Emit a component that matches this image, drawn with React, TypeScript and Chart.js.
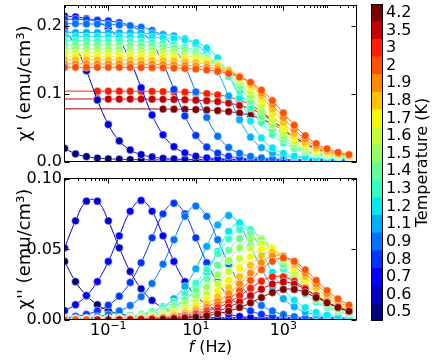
import React, { useEffect, useRef } from 'react';
import { Chart, registerables } from 'chart.js';
Chart.register(...registerables);

const FONT = "'DejaVu Sans'";

// Temperatures (K), in colour-bar order (bottom -> top)
const TEMPS = ['0.5','0.6','0.7','0.8','0.9','1.1','1.2','1.3','1.4','1.5','1.6','1.7','1.8','1.9','2','3','3.5','4.2'];

// Measurement frequencies (Hz)
const FREQ = [0.01, 0.01778, 0.03162, 0.05623, 0.1, 0.1778, 0.3162, 0.5623, 1, 1.778, 3.162, 5.623, 10, 17.78, 31.62, 56.23, 100, 177.8, 316.2, 562.3, 1000, 1778, 3162, 5623, 10000, 17783, 31623];

// index of first measured frequency for each temperature (fit lines span the whole range)
const FIRST_POINT = [0,0,0,0,0,0,0,0,0,0,0,0,0,0,0,3,3,9];

// plotting layer for each temperature (higher = drawn earlier, underneath)
const LAYER_TOP = [18,17,16,15,14,13,12,11,10,9,8,7,6,5,4,21,20,19];
const LAYER_BOTTOM = [21,20,19,18,17,16,15,14,13,12,11,10,9,8,7,6,5,4];

// x tick labels 10^n
const X_TICKS = [0.1, 10, 1000];
const X_TICK_EXP = ['\u22121', '1', '3'];

// chi' (emu/cm3)
const chi1_05 = [0.0200, 0.0120, 0.0080, 0.0058, 0.0047, 0.0040, 0.0036, 0.0034, 0.0032, 0.0031, 0.0030, 0.0031, 0.0030, 0.0030, 0.0029, 0.0030, 0.0030, 0.0029, 0.0030, 0.0030, 0.0029, 0.0030, 0.0030, 0.0029, 0.0030, 0.0030, 0.0029];
const chi1_06 = [0.194, 0.170, 0.134, 0.091, 0.055, 0.031, 0.0177, 0.0109, 0.0074, 0.0054, 0.0044, 0.0039, 0.0035, 0.0033, 0.0032, 0.0031, 0.0031, 0.0030, 0.0030, 0.0030, 0.0030, 0.0030, 0.0030, 0.0030, 0.0030, 0.0030, 0.0030];
const chi1_07 = [0.214, 0.213, 0.2105, 0.2056, 0.1965, 0.179, 0.149, 0.109, 0.069, 0.0399, 0.0225, 0.0134, 0.0085, 0.0062, 0.0049, 0.0041, 0.0036, 0.0034, 0.0032, 0.0031, 0.0030, 0.0030, 0.0030, 0.0030, 0.0030, 0.0030, 0.0030];
const chi1_08 = [0.2096, 0.2094, 0.209, 0.208, 0.207, 0.2046, 0.1999, 0.191, 0.174, 0.145, 0.1065, 0.0676, 0.039, 0.022, 0.0131, 0.0084, 0.0061, 0.0049, 0.0040, 0.0036, 0.0034, 0.0032, 0.0031, 0.0030, 0.0030, 0.0030, 0.0030];
const chi1_09 = [0.203, 0.203, 0.2026, 0.2024, 0.202, 0.2012, 0.200, 0.1978, 0.1932, 0.1846, 0.1682, 0.1406, 0.103, 0.0654, 0.0378, 0.0214, 0.0128, 0.0082, 0.0060, 0.0048, 0.0040, 0.0036, 0.0034, 0.0032, 0.0031, 0.0030, 0.0030];
const chi1_11 = [0.190, 0.190, 0.190, 0.1899, 0.1898, 0.1896, 0.1894, 0.1891, 0.1883, 0.1872, 0.1852, 0.1809, 0.1729, 0.1576, 0.132, 0.097, 0.062, 0.0364, 0.0211, 0.0131, 0.0088, 0.0068, 0.0057, 0.0049, 0.0046, 0.0044, 0.0042];
const chi1_12 = [0.184, 0.184, 0.184, 0.1839, 0.1839, 0.1838, 0.1836, 0.1835, 0.1831, 0.1824, 0.1813, 0.1793, 0.1752, 0.1674, 0.1527, 0.1278, 0.094, 0.0602, 0.0353, 0.0206, 0.0128, 0.0087, 0.0067, 0.0056, 0.0049, 0.0045, 0.0044];
const chi1_13 = [0.1779, 0.1778, 0.1778, 0.1777, 0.1775, 0.1772, 0.1768, 0.1763, 0.1754, 0.174, 0.1718, 0.1685, 0.1631, 0.155, 0.1427, 0.1252, 0.1034, 0.0796, 0.0578, 0.0403, 0.028, 0.0199, 0.0145, 0.0112, 0.009, 0.0076, 0.0067];
const chi1_14 = [0.1719, 0.1719, 0.1718, 0.1717, 0.1716, 0.1714, 0.1711, 0.1707, 0.1699, 0.1688, 0.1672, 0.1647, 0.1605, 0.1541, 0.1444, 0.1301, 0.111, 0.0885, 0.066, 0.0469, 0.0326, 0.0229, 0.0165, 0.0123, 0.0098, 0.0082, 0.0071];
const chi1_15 = [0.1659, 0.1659, 0.1659, 0.1658, 0.1657, 0.1655, 0.1653, 0.1649, 0.1644, 0.1636, 0.1623, 0.1602, 0.1571, 0.1522, 0.1446, 0.1332, 0.1169, 0.0966, 0.0744, 0.0541, 0.0378, 0.0264, 0.0188, 0.0139, 0.0108, 0.0087, 0.0074];
const chi1_16 = [0.1599, 0.1599, 0.1599, 0.1598, 0.1598, 0.1596, 0.1594, 0.1591, 0.1588, 0.1581, 0.1571, 0.1555, 0.1532, 0.1493, 0.1434, 0.1344, 0.1211, 0.1034, 0.0825, 0.0616, 0.0439, 0.0306, 0.0216, 0.0157, 0.0118, 0.0095, 0.0079];
const chi1_17 = [0.155, 0.1549, 0.1549, 0.1549, 0.1548, 0.1547, 0.1546, 0.1543, 0.154, 0.1535, 0.1528, 0.1516, 0.1496, 0.1468, 0.1421, 0.1351, 0.1244, 0.1093, 0.0904, 0.0697, 0.0508, 0.0356, 0.025, 0.0179, 0.0133, 0.0104, 0.0085];
const chi1_18 = [0.150, 0.1499, 0.1499, 0.1499, 0.1498, 0.1498, 0.1497, 0.1495, 0.1492, 0.1488, 0.1482, 0.1472, 0.1458, 0.1436, 0.140, 0.1345, 0.1261, 0.1136, 0.0971, 0.0775, 0.0579, 0.0414, 0.0289, 0.0205, 0.015, 0.0114, 0.0092];
const chi1_19 = [0.144, 0.144, 0.1439, 0.1439, 0.1439, 0.1438, 0.1437, 0.1436, 0.1434, 0.143, 0.1426, 0.1419, 0.1408, 0.139, 0.1364, 0.132, 0.1255, 0.1156, 0.1016, 0.0841, 0.0649, 0.0474, 0.0334, 0.0235, 0.017, 0.0126, 0.010];
const chi1_20 = [0.139, 0.139, 0.1389, 0.1389, 0.1389, 0.1389, 0.1388, 0.1387, 0.1385, 0.1383, 0.1379, 0.1373, 0.1365, 0.1351, 0.1331, 0.1298, 0.1247, 0.1169, 0.1054, 0.0901, 0.072, 0.0539, 0.0386, 0.0271, 0.0193, 0.0142, 0.0109];
const chi1_30 = [0.104, 0.104, 0.104, 0.1039, 0.1039, 0.1039, 0.1038, 0.1037, 0.1036, 0.1033, 0.103, 0.1025, 0.1017, 0.1004, 0.0986, 0.0955, 0.0908, 0.0838, 0.0738, 0.0613, 0.0477, 0.0352, 0.0252, 0.0182, 0.0135, 0.0104, 0.0086];
const chi1_35 = [0.0925, 0.0925, 0.0925, 0.0925, 0.0924, 0.0924, 0.0924, 0.0923, 0.0922, 0.092, 0.0918, 0.0914, 0.0908, 0.090, 0.0887, 0.0865, 0.0831, 0.0781, 0.0705, 0.0606, 0.0488, 0.0369, 0.027, 0.0194, 0.0144, 0.011, 0.0089];
const chi1_42 = [0.078, 0.078, 0.078, 0.078, 0.078, 0.0779, 0.0779, 0.0779, 0.0778, 0.0777, 0.0775, 0.0773, 0.0769, 0.0763, 0.0754, 0.074, 0.0717, 0.0683, 0.0631, 0.0557, 0.0465, 0.0365, 0.0273, 0.0199, 0.0147, 0.0113, 0.009];

// chi'' (emu/cm3)
const chi2_05 = [0.0415, 0.0272, 0.0173, 0.0108, 0.0067, 0.0045, 0.0030, 0.0022, 0.0018, 0.0016, 0.0015, 0.0015, 0.0014, 0.0015, 0.0014, 0.0015, 0.0014, 0.0014, 0.0015, 0.0014, 0.0014, 0.0015, 0.0014, 0.0014, 0.0015, 0.0014, 0.0014];
const chi2_06 = [0.0512, 0.0703, 0.0843, 0.0843, 0.0703, 0.0512, 0.0344, 0.0221, 0.0139, 0.0087, 0.0054, 0.0033, 0.0020, 0.0016, 0.0015, 0.0014, 0.0014, 0.0014, 0.0014, 0.0014, 0.0014, 0.0014, 0.0014, 0.0014, 0.0014, 0.0014, 0.0014];
const chi2_07 = [0.0067, 0.0108, 0.0173, 0.0272, 0.0415, 0.0597, 0.0771, 0.0848, 0.0771, 0.0597, 0.0415, 0.0272, 0.0173, 0.0108, 0.0067, 0.0041, 0.0025, 0.0017, 0.0014, 0.0013, 0.0013, 0.0013, 0.0013, 0.0013, 0.0013, 0.0013, 0.0013];
const chi2_08 = [0.0015, 0.0025, 0.0040, 0.0065, 0.0105, 0.0169, 0.0266, 0.0406, 0.0583, 0.0753, 0.0828, 0.0753, 0.0583, 0.0406, 0.0266, 0.0169, 0.0105, 0.0065, 0.0040, 0.0025, 0.0016, 0.0013, 0.0012, 0.0012, 0.0012, 0.0012, 0.0012];
const chi2_09 = [0.0010, 0.0010, 0.0015, 0.0024, 0.0039, 0.0064, 0.0103, 0.0165, 0.0259, 0.0396, 0.0569, 0.0735, 0.0808, 0.0735, 0.0569, 0.0396, 0.0259, 0.0165, 0.0103, 0.0064, 0.0039, 0.0024, 0.0015, 0.0012, 0.0012, 0.0012, 0.0012];
const chi2_11 = [0.0010, 0.0010, 0.0010, 0.0010, 0.0012, 0.0014, 0.0022, 0.0036, 0.0058, 0.0094, 0.0151, 0.0238, 0.0363, 0.0522, 0.0674, 0.0741, 0.0674, 0.0522, 0.0363, 0.0238, 0.0151, 0.0094, 0.0058, 0.0036, 0.0022, 0.0014, 0.0010];
const chi2_12 = [0.0010, 0.0010, 0.0010, 0.0010, 0.0010, 0.0012, 0.0013, 0.0021, 0.0034, 0.0054, 0.0088, 0.0141, 0.0221, 0.0338, 0.0486, 0.0628, 0.069, 0.0628, 0.0486, 0.0338, 0.0221, 0.0141, 0.0088, 0.0054, 0.0034, 0.0021, 0.0013];
const chi2_13 = [0.0002, 0.0004, 0.0006, 0.0008, 0.0012, 0.0018, 0.0027, 0.0041, 0.006, 0.0088, 0.0128, 0.0185, 0.0262, 0.036, 0.0471, 0.0575, 0.0641, 0.0641, 0.0575, 0.0471, 0.036, 0.0262, 0.0185, 0.0128, 0.0088, 0.006, 0.0041];
const chi2_14 = [0.0002, 0.0003, 0.0004, 0.0006, 0.0009, 0.0014, 0.0021, 0.0031, 0.0046, 0.0068, 0.010, 0.0145, 0.0208, 0.029, 0.0389, 0.0494, 0.0577, 0.061, 0.0577, 0.0494, 0.0389, 0.029, 0.0208, 0.0145, 0.010, 0.0068, 0.0046];
const chi2_15 = [0.0002, 0.0002, 0.0003, 0.0005, 0.0007, 0.0011, 0.0016, 0.0024, 0.0036, 0.0053, 0.0078, 0.0115, 0.0165, 0.0234, 0.0321, 0.042, 0.0513, 0.0571, 0.0571, 0.0513, 0.042, 0.0321, 0.0234, 0.0165, 0.0115, 0.0078, 0.0053];
const chi2_16 = [0.0001, 0.0002, 0.0002, 0.0004, 0.0006, 0.0008, 0.0012, 0.0018, 0.0027, 0.0041, 0.006, 0.0088, 0.0128, 0.0184, 0.0256, 0.0344, 0.0436, 0.051, 0.0539, 0.051, 0.0436, 0.0344, 0.0256, 0.0184, 0.0128, 0.0088, 0.006];
const chi2_17 = [0.0001, 0.0001, 0.0002, 0.0003, 0.0004, 0.0006, 0.001, 0.0014, 0.0021, 0.0032, 0.0047, 0.0069, 0.0101, 0.0145, 0.0205, 0.0282, 0.0369, 0.045, 0.0502, 0.0502, 0.045, 0.0369, 0.0282, 0.0205, 0.0145, 0.0101, 0.0069];
const chi2_18 = [0.0001, 0.0001, 0.0001, 0.0002, 0.0003, 0.0005, 0.0007, 0.0011, 0.0016, 0.0024, 0.0036, 0.0054, 0.0079, 0.0114, 0.0164, 0.0229, 0.0307, 0.0389, 0.0455, 0.0481, 0.0455, 0.0389, 0.0307, 0.0229, 0.0164, 0.0114, 0.0079];
const chi2_19 = [0.0001, 0.0001, 0.0001, 0.0002, 0.0003, 0.0004, 0.0006, 0.0009, 0.0013, 0.0019, 0.0029, 0.0042, 0.0062, 0.0091, 0.0131, 0.0186, 0.0255, 0.0333, 0.0407, 0.0453, 0.0453, 0.0407, 0.0333, 0.0255, 0.0186, 0.0131, 0.0091];
const chi2_20 = [0.0001, 0.0001, 0.0001, 0.0001, 0.0002, 0.0003, 0.0005, 0.0007, 0.001, 0.0015, 0.0022, 0.0033, 0.0049, 0.0072, 0.0105, 0.015, 0.0209, 0.0281, 0.0356, 0.0416, 0.044, 0.0416, 0.0356, 0.0281, 0.0209, 0.015, 0.0105];
const chi2_30 = [0.0001, 0.0001, 0.0001, 0.0001, 0.0002, 0.0003, 0.0004, 0.0006, 0.0009, 0.0013, 0.0019, 0.0028, 0.0042, 0.0061, 0.0088, 0.0125, 0.0172, 0.0225, 0.0275, 0.0306, 0.0306, 0.0275, 0.0225, 0.0172, 0.0125, 0.0088, 0.0061];
const chi2_35 = [0.0001, 0.0001, 0.0001, 0.0001, 0.0001, 0.0002, 0.0003, 0.0004, 0.0006, 0.0009, 0.0014, 0.002, 0.003, 0.0044, 0.0064, 0.0092, 0.0128, 0.0172, 0.0218, 0.0255, 0.027, 0.0255, 0.0218, 0.0172, 0.0128, 0.0092, 0.0064];
const chi2_42 = [0.0001, 0.0001, 0.0001, 0.0001, 0.0001, 0.0001, 0.0002, 0.0003, 0.0004, 0.0006, 0.0009, 0.0014, 0.002, 0.003, 0.0044, 0.0063, 0.0089, 0.0122, 0.0159, 0.0195, 0.0217, 0.0217, 0.0195, 0.0159, 0.0122, 0.0089, 0.0063];

const CHI1 = [chi1_05, chi1_06, chi1_07, chi1_08, chi1_09, chi1_11, chi1_12, chi1_13, chi1_14, chi1_15, chi1_16, chi1_17, chi1_18, chi1_19, chi1_20, chi1_30, chi1_35, chi1_42];
const CHI2 = [chi2_05, chi2_06, chi2_07, chi2_08, chi2_09, chi2_11, chi2_12, chi2_13, chi2_14, chi2_15, chi2_16, chi2_17, chi2_18, chi2_19, chi2_20, chi2_30, chi2_35, chi2_42];

// matplotlib "jet" colormap
function jet(v: number): string {
  const seg = (pts: number[][]) => {
    for (let i = 1; i < pts.length; i++) {
      if (v <= pts[i][0]) {
        const [x0, y0] = pts[i - 1];
        const [x1, y1] = pts[i];
        return y0 + ((y1 - y0) * (v - x0)) / (x1 - x0);
      }
    }
    return pts[pts.length - 1][1];
  };
  const r = seg([[0, 0], [0.35, 0], [0.66, 1], [0.89, 1], [1, 0.5]]);
  const g = seg([[0, 0], [0.125, 0], [0.375, 1], [0.64, 1], [0.91, 0], [1, 0]]);
  const b = seg([[0, 0.5], [0.11, 1], [0.34, 1], [0.65, 0], [1, 0]]);
  return `rgb(${Math.round(r * 255)},${Math.round(g * 255)},${Math.round(b * 255)})`;
}
const COLORS = TEMPS.map((_, k) => jet(k / (TEMPS.length - 1)));

const X_MIN = 0.0097;
const X_MAX = 47000;

function buildDatasets(series: number[][], layer: number[]) {
  const ds: any[] = [];
  series.forEach((vals, k) => {
    const color = COLORS[k];
    const all = FREQ.map((f, i) => ({ x: f, y: vals[i] }));
    ds.push({
      label: TEMPS[k] + ' fit',
      data: all,
      showLine: true,
      borderColor: color,
      backgroundColor: color,
      borderWidth: 1,
      pointRadius: 0,
      tension: 0.4,
      order: 2 * layer[k] + 1,
      clip: 0,
    });
    ds.push({
      label: TEMPS[k],
      data: all.slice(FIRST_POINT[k]),
      showLine: false,
      pointRadius: 3.9,
      pointStyle: 'circle',
      backgroundColor: color,
      borderColor: 'rgba(255,255,255,0.85)',
      borderWidth: 0.6,
      order: 2 * layer[k],
      clip: 0,
    });
  });
  return ds;
}

const framePlugin = {
  id: 'frame',
  afterDraw(chart: any) {
    const { ctx, chartArea: a, scales } = chart;
    const L = Math.round(a.left) + 0.5;
    const R = Math.round(a.right) - 0.5;
    const T = Math.round(a.top) + 0.5;
    const B = Math.round(a.bottom) - 0.5;
    ctx.save();
    ctx.strokeStyle = '#000';
    ctx.lineWidth = 1;
    ctx.beginPath();
    const xs = scales.x;
    for (let e = -3; e <= 5; e++) {
      for (let j = 1; j <= 9; j++) {
        const v = j * Math.pow(10, e);
        if (v < X_MIN || v > X_MAX) continue;
        const isMajor = X_TICKS.some((m) => Math.abs(m - v) / m < 1e-6);
        const px = Math.round(xs.getPixelForValue(v)) + 0.5;
        if (isMajor) {
          ctx.moveTo(px, B); ctx.lineTo(px, B - 5);
          ctx.moveTo(px, T); ctx.lineTo(px, T + 5);
        } else {
          ctx.moveTo(px, T); ctx.lineTo(px, T + 2.5);
        }
      }
    }
    const ys = scales.y;
    ys.ticks.forEach((t: any) => {
      const py = Math.round(ys.getPixelForValue(t.value)) + 0.5;
      ctx.moveTo(L, py); ctx.lineTo(L + 5, py);
      ctx.moveTo(R, py); ctx.lineTo(R - 5, py);
    });
    ctx.stroke();
    ctx.strokeRect(L, T, R - L, B - T);
    ctx.restore();
  },
};

const xLabelsPlugin = {
  id: 'xlabels',
  afterDraw(chart: any) {
    const { ctx, chartArea: a, scales } = chart;
    const xs = scales.x;
    ctx.save();
    ctx.fillStyle = '#000';
    ctx.textBaseline = 'alphabetic';
    ctx.textAlign = 'left';
    X_TICKS.forEach((v, i) => {
      const px = xs.getPixelForValue(v);
      ctx.font = `16px ${FONT}`;
      const w1 = ctx.measureText('10').width;
      ctx.font = `11px ${FONT}`;
      const w2 = ctx.measureText(X_TICK_EXP[i]).width;
      const left = px - (w1 + w2) / 2;
      ctx.font = `16px ${FONT}`;
      ctx.fillText('10', left, a.bottom + 15);
      ctx.font = `11px ${FONT}`;
      ctx.fillText(X_TICK_EXP[i], left + w1, a.bottom + 9);
    });
    ctx.font = `italic 16px ${FONT}`;
    const wf = ctx.measureText('f').width;
    ctx.font = `16px ${FONT}`;
    const wr = ctx.measureText(' (Hz)').width;
    const cx = (a.left + a.right) / 2;
    const start = cx - (wf + wr) / 2;
    ctx.font = `italic 16px ${FONT}`;
    ctx.fillText('f', start, a.bottom + 32);
    ctx.font = `16px ${FONT}`;
    ctx.fillText(' (Hz)', start + wf, a.bottom + 32);
    ctx.restore();
  },
};

function panelConfig(series: number[][], layer: number[], yMax: number, yStep: number, decimals: number, title: string, padTop: number, padBottom: number, withXLabels: boolean): any {
  return {
    type: 'scatter',
    data: { datasets: buildDatasets(series, layer) },
    plugins: withXLabels ? [framePlugin, xLabelsPlugin] : [framePlugin],
    options: {
      animation: false,
      responsive: false,
      maintainAspectRatio: false,
      events: [],
      layout: { padding: { left: 0, right: 8.5, top: padTop, bottom: padBottom } },
      plugins: { legend: { display: false }, tooltip: { enabled: false } },
      scales: {
        x: { type: 'logarithmic', min: X_MIN, max: X_MAX, display: false },
        y: {
          type: 'linear',
          min: 0,
          max: yMax,
          grid: { display: false, drawTicks: false },
          border: { display: false },
          ticks: {
            stepSize: yStep,
            includeBounds: false,
            color: '#000',
            padding: 2,
            font: { family: FONT, size: 16 },
            callback: (v: any) => Number(v).toFixed(decimals),
          },
          title: {
            display: true,
            text: title,
            color: '#000',
            font: { family: FONT, size: 18 },
            padding: { top: 15, bottom: 0 },
          },
          afterFit: (s: any) => {
            s.width = 64;
            s.paddingTop = 0;
            s.paddingBottom = 0;
          },
        },
      },
    },
  };
}

const colorbarPlugin = {
  id: 'cbframe',
  afterDraw(chart: any) {
    const { ctx, chartArea: a } = chart;
    ctx.save();
    ctx.strokeStyle = '#000';
    ctx.lineWidth = 1;
    ctx.strokeRect(Math.round(a.left) + 0.5, Math.round(a.top) + 0.5, Math.round(a.right - a.left) - 1, Math.round(a.bottom - a.top) - 1);
    ctx.translate(63, (a.top + a.bottom) / 2);
    ctx.rotate(-Math.PI / 2);
    ctx.fillStyle = '#000';
    ctx.font = `16px ${FONT}`;
    ctx.textAlign = 'center';
    ctx.textBaseline = 'middle';
    ctx.fillText('Temperature (K)', 0, 0);
    ctx.restore();
  },
};

function colorbarConfig(): any {
  return {
    type: 'bar',
    data: {
      labels: [''],
      datasets: TEMPS.map((t, k) => ({
        label: t,
        data: [1],
        backgroundColor: COLORS[k],
        borderWidth: 0,
        barPercentage: 1,
        categoryPercentage: 1,
      })),
    },
    plugins: [colorbarPlugin],
    options: {
      animation: false,
      responsive: false,
      maintainAspectRatio: false,
      events: [],
      layout: { padding: { left: 11, right: 0, top: 4, bottom: 42 } },
      plugins: { legend: { display: false }, tooltip: { enabled: false } },
      scales: {
        x: { stacked: true, display: false },
        y: {
          stacked: true,
          position: 'right',
          min: 0,
          max: TEMPS.length,
          grid: { display: false, drawTicks: false },
          border: { display: false },
          afterBuildTicks: (s: any) => {
            s.ticks = TEMPS.map((_, k) => ({ value: k + 0.5 }));
          },
          ticks: {
            autoSkip: false,
            color: '#000',
            padding: 3,
            font: { family: FONT, size: 16 },
            callback: (v: any) => TEMPS[Math.floor(Number(v))],
          },
          afterFit: (s: any) => {
            s.width = 53;
            s.paddingTop = 0;
            s.paddingBottom = 0;
          },
        },
      },
    },
  };
}

export default function App() {
  const topRef = useRef<HTMLCanvasElement>(null);
  const botRef = useRef<HTMLCanvasElement>(null);
  const cbRef = useRef<HTMLCanvasElement>(null);

  useEffect(() => {
    const charts = [
      new Chart(topRef.current!, panelConfig(CHI1, LAYER_TOP, 0.231, 0.1, 1, "\u03c7' (emu/cm\u00b3)", 4, 8, false)),
      new Chart(botRef.current!, panelConfig(CHI2, LAYER_BOTTOM, 0.1007, 0.05, 2, "\u03c7'' (emu/cm\u00b3)", 8, 43, true)),
      new Chart(cbRef.current!, colorbarConfig()),
    ];
    return () => charts.forEach((c) => c.destroy());
  }, []);

  return (
    <div style={{ position: 'fixed', left: 0, top: 0, width: 436, height: 363, background: '#fff', overflow: 'hidden' }}>
      <canvas ref={topRef} width={365} height={170} style={{ position: 'absolute', left: 0, top: 0, width: 365, height: 170 }} />
      <canvas ref={botRef} width={365} height={193} style={{ position: 'absolute', left: 0, top: 170, width: 365, height: 193 }} />
      <canvas ref={cbRef} width={76} height={363} style={{ position: 'absolute', left: 360, top: 0, width: 76, height: 363 }} />
    </div>
  );
}
